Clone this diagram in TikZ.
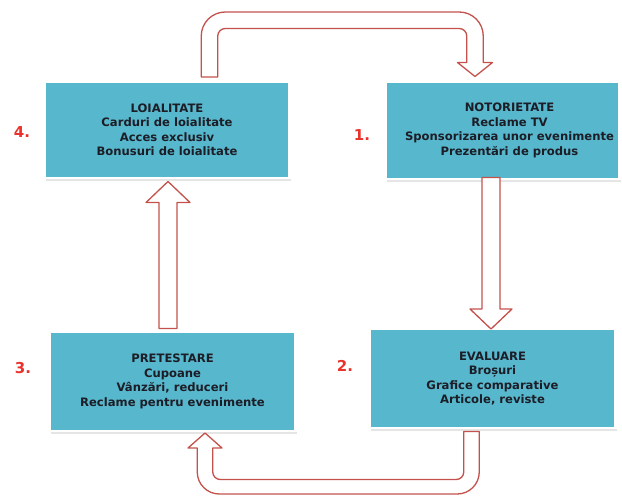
\documentclass[tikz,border=0pt]{standalone}
\usepackage{fontspec}
\setmainfont{DejaVu Sans}
\usetikzlibrary{calc,shadows}

\definecolor{boxblue}{HTML}{57B7CD}
\definecolor{boxtext}{HTML}{1C1D26}
\definecolor{arrowred}{HTML}{C4524C}
\definecolor{numred}{HTML}{E8322B}

\tikzset{
  stagebox/.style={rectangle, fill=boxblue, draw=white, line width=2.5pt,
    inner sep=0pt, outer sep=0pt,
    drop shadow={shadow xshift=1.4pt, shadow yshift=-2.4pt, fill=black!25, opacity=0.4}},
  stagetext/.style={align=center, text=boxtext,
    font=\fontsize{11.6}{14.5}\selectfont\bfseries},
  stagenum/.style={text=numred, font=\fontsize{15}{18}\selectfont\bfseries},
  blockarrow/.style={draw=arrowred, fill=white, line width=1.3pt, line join=round}
}

\begin{document}
\begin{tikzpicture}[x=1pt, y=1pt]
\useasboundingbox (0,0) rectangle (622,496);

% stage boxes
\node[stagebox, minimum width=244.5pt, minimum height=96.5pt] (n4) at (167,366) {};
\node[stagebox, minimum width=233.5pt, minimum height=97.5pt] (n1) at (502.5,365.5) {};
\node[stagebox, minimum width=245.5pt, minimum height=99.5pt] (n3) at (172.5,114.5) {};
\node[stagebox, minimum width=245.5pt, minimum height=99.5pt] (n2) at (492.5,117.5) {};

% box texts
\node[stagetext] (t4) at (n4.center) {LOIALITATE\\Carduri de loialitate\\Acces exclusiv\\Bonusuri de loialitate};
\node[stagetext] (t1) at ($(n1.center)+(7,0)$) {NOTORIETATE\\Reclame TV\\Sponsorizarea unor evenimente\\Prezentări de produs};
\node[stagetext] (t3) at (n3.center) {PRETESTARE\\Cupoane\\Vânzări, reduceri\\Reclame pentru evenimente};
\node[stagetext] (t2) at (n2.center) {EVALUARE\\Broșuri\\Grafice comparative\\Articole, reviste};

% stage numbers
\node[stagenum] (l4) at (22,364) {4.};
\node[stagenum] (l1) at (362,361) {1.};
\node[stagenum] (l3) at (23,128) {3.};
\node[stagenum] (l2) at (345,130) {2.};

% arrow anchor points
\coordinate (a1s) at ($(n4.north)+(42.5,4.75)$);
\coordinate (a1e) at ($(n1.north)+(-27.5,5.25)$);
\coordinate (a1top) at ($(n4.north)+(0,69.75)$);
\coordinate (a2s) at ($(n1.south)+(-11.5,1.75)$);
\coordinate (a2e) at ($(n2.north)+(-1.5,-0.25)$);
\coordinate (a3s) at ($(n2.south)+(-21,-3.25)$);
\coordinate (a3e) at ($(n3.south)+(32.5,-1.75)$);
\coordinate (a3bot) at ($(n3.south)+(0,-62.75)$);
\coordinate (a4s) at ($(n3.north)+(-4.5,3.25)$);
\coordinate (a4e) at ($(n4.south)+(1,-3.25)$);

% 4 -> 1 : over the top
\draw[blockarrow] let \p1=(a1s), \p2=(a1e), \p3=(a1top) in
  (\x1-8.25pt,\y1) -- (\x1-8.25pt,\y3-24pt)
  arc[start angle=180, end angle=90, radius=24pt]
  -- (\x2+8.25pt-24pt,\y3)
  arc[start angle=90, end angle=0, radius=24pt]
  -- (\x2+8.25pt,\y2+14pt) -- (\x2+17.5pt,\y2+14pt) -- (\x2,\y2)
  -- (\x2-17.5pt,\y2+14pt) -- (\x2-8.25pt,\y2+14pt)
  -- (\x2-8.25pt,\y3-16.5pt-7.5pt)
  arc[start angle=0, end angle=90, radius=7.5pt]
  -- (\x1+8.25pt+7.5pt,\y3-16.5pt)
  arc[start angle=90, end angle=180, radius=7.5pt]
  -- (\x1+8.25pt,\y1) -- cycle;

% 1 -> 2 : straight down
\draw[blockarrow] let \p1=(a2s), \p2=(a2e) in
  (\x1-9pt,\y1) -- (\x1-9pt,\y2+20pt) -- (\x1-21pt,\y2+20pt) -- (\x1,\y2)
  -- (\x1+21pt,\y2+20pt) -- (\x1+9pt,\y2+20pt) -- (\x1+9pt,\y1) -- cycle;

% 2 -> 3 : under the bottom
\draw[blockarrow] let \p1=(a3s), \p2=(a3e), \p3=(a3bot) in
  (\x1+7.75pt,\y1) -- (\x1+7.75pt,\y3+22pt)
  arc[start angle=0, end angle=-90, radius=22pt]
  -- (\x2-7.75pt+22pt,\y3)
  arc[start angle=270, end angle=180, radius=22pt]
  -- (\x2-7.75pt,\y2-15pt) -- (\x2-17pt,\y2-15pt) -- (\x2,\y2)
  -- (\x2+17pt,\y2-15pt) -- (\x2+7.75pt,\y2-15pt)
  -- (\x2+7.75pt,\y3+14.5pt+7.5pt)
  arc[start angle=180, end angle=270, radius=7.5pt]
  -- (\x1-7.75pt-7.5pt,\y3+14.5pt)
  arc[start angle=270, end angle=360, radius=7.5pt]
  -- (\x1-7.75pt,\y1) -- cycle;

% 3 -> 4 : straight up
\draw[blockarrow] let \p1=(a4s), \p2=(a4e) in
  (\x1-9pt,\y1) -- (\x1-9pt,\y2-21pt) -- (\x1-22pt,\y2-21pt) -- (\x1,\y2)
  -- (\x1+22pt,\y2-21pt) -- (\x1+9pt,\y2-21pt) -- (\x1+9pt,\y1) -- cycle;

\end{tikzpicture}
\end{document}
